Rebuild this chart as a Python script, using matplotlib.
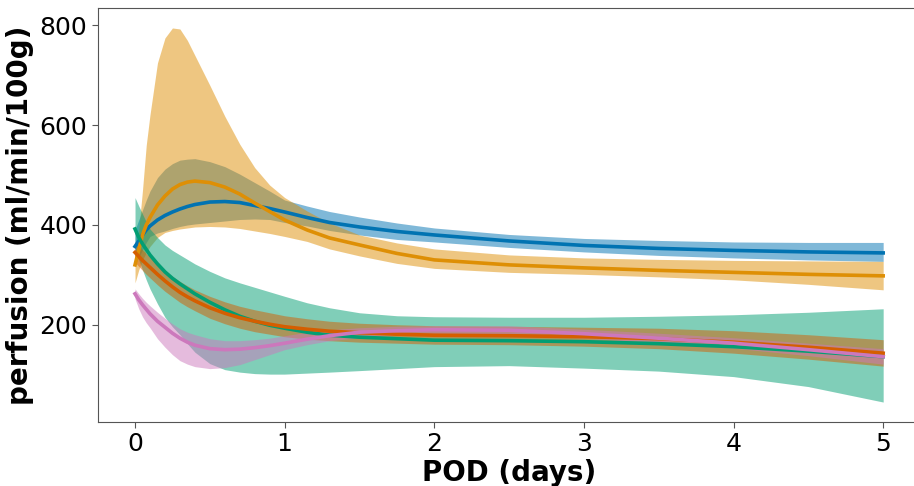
import matplotlib
matplotlib.use("Agg")
import matplotlib.pyplot as plt

# POD time grid (days)
pod = [0, 0.025, 0.05, 0.075, 0.1, 0.15, 0.2, 0.25, 0.3, 0.35, 0.4, 0.5, 0.6,
       0.7, 0.8, 0.9, 1.0, 1.15, 1.3, 1.5, 1.75, 2, 2.5, 3, 3.5, 4, 4.5, 5]

# fitted perfusion (ml/min/100g) with lower / upper confidence limits
blue_mean = [357, 368, 380, 390, 398, 410, 419, 426, 432, 437, 441, 446, 447, 445,
             439, 433, 426, 415, 405, 396, 387, 380, 368, 359, 353, 349, 346, 344]
blue_lo = [322, 335, 350, 365, 377, 384, 388, 393, 397, 400, 402, 405, 408, 411,
           412, 411, 405, 398, 389, 380, 371, 366, 355, 346, 339, 334, 330, 327]
blue_hi = [390, 410, 430, 450, 468, 495, 512, 523, 530, 532, 533, 527, 517, 502,
           485, 468, 450, 438, 427, 416, 404, 394, 381, 373, 369, 366, 365, 365]

orange_mean = [320, 350, 380, 400, 415, 440, 458, 472, 481, 486, 488, 485, 476, 462,
               444, 427, 410, 390, 374, 360, 343, 330, 320, 314, 309, 305, 301, 298]
orange_lo = [284, 310, 330, 345, 357, 375, 385, 389, 392, 394, 396, 397, 396, 393,
             388, 383, 377, 367, 352, 338, 323, 313, 305, 301, 296, 290, 281, 270]
orange_hi = [335, 390, 470, 560, 621, 725, 775, 795, 793, 770, 740, 680, 618, 562,
             515, 480, 455, 428, 404, 380, 364, 352, 340, 334, 331, 329, 328, 327]

green_mean = [392, 375, 362, 351, 340, 322, 306, 293, 282, 272, 262, 245, 230, 217,
              207, 199, 193, 185, 179, 175, 172, 169, 168, 166, 162, 156, 147, 136]
green_lo = [350, 330, 310, 290, 272, 242, 215, 196, 180, 162, 145, 122, 110, 105,
            102, 101, 101, 103, 105, 108, 112, 116, 118, 113, 107, 96, 76, 45]
green_hi = [455, 438, 422, 406, 392, 375, 360, 349, 340, 331, 322, 307, 294, 284,
            275, 266, 257, 244, 234, 224, 218, 216, 215, 215, 217, 220, 225, 232]

red_mean = [345, 337, 329, 322, 315, 301, 288, 276, 265, 256, 248, 234, 223, 214,
            207, 201, 196, 191, 187, 184, 181, 179, 178, 176, 172, 165, 155, 143]
red_lo = [325, 317, 309, 301, 294, 280, 267, 256, 245, 236, 228, 213, 202, 193,
          186, 181, 176, 171, 168, 165, 163, 161, 160, 157, 152, 143, 131, 117]
red_hi = [365, 357, 350, 343, 336, 322, 309, 297, 287, 278, 270, 257, 246, 237,
          230, 224, 218, 212, 207, 203, 200, 198, 197, 195, 193, 188, 180, 170]

pink_mean = [262, 250, 240, 231, 222, 207, 195, 183, 173, 165, 159, 152, 150, 151,
             154, 158, 163, 171, 178, 185, 188, 190, 189, 182, 173, 163, 150, 136]
pink_lo = [252, 232, 216, 204, 194, 172, 155, 140, 128, 121, 116, 112, 114, 120,
           130, 140, 150, 160, 168, 174, 179, 181, 181, 173, 164, 153, 138, 121]
pink_hi = [272, 262, 253, 245, 238, 225, 213, 202, 192, 185, 180, 172, 168, 168,
           170, 173, 178, 185, 190, 194, 197, 198, 198, 191, 183, 174, 163, 152]

series = [
    ("#0173b2", blue_mean, blue_lo, blue_hi),
    ("#de8f05", orange_mean, orange_lo, orange_hi),
    ("#029e73", green_mean, green_lo, green_hi),
    ("#d55e00", red_mean, red_lo, red_hi),
    ("#cc78bc", pink_mean, pink_lo, pink_hi),
]

fig = plt.figure(figsize=(9.14, 4.86), dpi=100)
ax = fig.add_axes([0.1068, 0.1317, 0.9004, 0.8518])

# bands sit below all lines (fill zorder 1, lines zorder 2)
for color, mean, lo, hi in series:
    ax.fill_between(pod, lo, hi, color=color, alpha=0.5, linewidth=0)
    ax.plot(pod, mean, color=color, linewidth=2.6)

ax.set_xlim(-0.25, 5.25)
ax.set_ylim(5, 835)
ax.set_xticks([0, 1, 2, 3, 4, 5])
ax.set_yticks([200, 400, 600, 800])
ax.tick_params(labelsize=18, length=4, color="#555555")
for s in ax.spines.values():
    s.set_color("#555555")
ax.spines["right"].set_visible(False)

ax.set_xlabel("POD (days)", fontsize=20, fontweight="bold", labelpad=2)
ax.set_ylabel("perfusion (ml/min/100g)", fontsize=20, fontweight="bold", labelpad=4)

fig.savefig("out.png", dpi=100)
